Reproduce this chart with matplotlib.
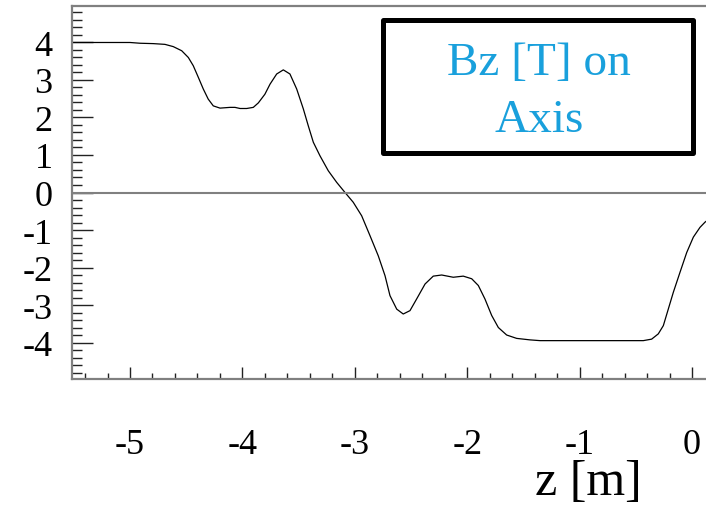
import numpy as np
import matplotlib.pyplot as plt
from matplotlib.patches import Rectangle
from matplotlib.ticker import MultipleLocator

plt.rcParams['font.family'] = ['Liberation Serif', 'DejaVu Serif']
plt.rcParams['axes.unicode_minus'] = False

# on-axis solenoid field, z in metres, Bz in tesla
z_m = [-5.70, -5.00, -4.911, -4.793, -4.689, -4.615, -4.540, -4.481, -4.437,
       -4.392, -4.348, -4.304, -4.259, -4.199, -4.110, -4.066, -4.021,
       -3.962, -3.903, -3.858, -3.800, -3.754, -3.695, -3.636, -3.577,
       -3.517, -3.458, -3.414, -3.369, -3.310, -3.236, -3.161, -3.087,
       -3.014, -2.939, -2.865, -2.791, -2.731, -2.687, -2.627, -2.569,
       -2.509, -2.450, -2.375, -2.302, -2.227, -2.124, -2.035, -1.960,
       -1.901, -1.842, -1.782, -1.723, -1.649, -1.560, -1.441, -1.352,
       -0.641, -0.433, -0.359, -0.300, -0.255, -0.211, -0.166, -0.107,
       -0.047, 0.012, 0.071, 0.116, 0.20]
bz_t = [4.00, 4.00, 3.98, 3.97, 3.95, 3.89, 3.78, 3.60, 3.38,
        3.07, 2.76, 2.49, 2.31, 2.25, 2.27, 2.27, 2.24,
        2.24, 2.27, 2.39, 2.62, 2.89, 3.16, 3.27, 3.16,
        2.76, 2.23, 1.78, 1.34, 0.98, 0.58, 0.27, 0.00,
        -0.26, -0.62, -1.15, -1.69, -2.22, -2.75, -3.11, -3.24,
        -3.15, -2.84, -2.44, -2.23, -2.20, -2.26, -2.23, -2.30,
        -2.48, -2.84, -3.28, -3.60, -3.80, -3.89, -3.93, -3.95,
        -3.95, -3.95, -3.91, -3.77, -3.55, -3.11, -2.66, -2.13,
        -1.60, -1.19, -0.93, -0.79, -0.60]

x_ticks = [-5, -4, -3, -2, -1, 0]
y_ticks = [-4, -3, -2, -1, 0, 1, 2, 3, 4]

W, H = 706, 506
fig = plt.figure(figsize=(W / 100, H / 100), dpi=100)

# frame runs past the right edge of the canvas
left_px, right_px, top_px, bottom_px = 72, 760, 7, 380
ax = fig.add_axes([left_px / W, 1 - bottom_px / H,
                   (right_px - left_px) / W, (bottom_px - top_px) / H])

ax.plot(z_m, bz_t, color='black', lw=0.9)
ax.axhline(0, color='#808080', lw=1.5)

ax.set_xlim(-5.516, 0.605)
ax.set_ylim(-4.973, 4.973)

for side in ['left', 'top', 'bottom']:
    ax.spines[side].set_color('#808080')
    ax.spines[side].set_linewidth(1.6)
ax.spines['right'].set_visible(False)

ax.set_xticks(x_ticks)
ax.set_yticks(y_ticks)
ax.xaxis.set_minor_locator(MultipleLocator(0.2))
ax.yaxis.set_minor_locator(MultipleLocator(0.2))
ax.set_xticklabels([str(v) for v in x_ticks])
ax.set_yticklabels([str(v) for v in y_ticks])

ax.tick_params(axis='x', which='major', direction='in', length=9, width=1,
               color='#222222', pad=35, labelsize=26)
ax.tick_params(axis='x', which='minor', direction='in', length=4.5, width=1,
               color='#222222')
ax.tick_params(axis='y', which='major', direction='in', length=15, width=1,
               color='#222222', pad=14, labelsize=26)
ax.tick_params(axis='y', which='minor', direction='in', length=7.5, width=1,
               color='#222222')
ax.tick_params(top=False, right=False, which='both')

# axis title, right aligned under the last ticks
fig.text(642 / W, 1 - 495 / H, 'z [m]', ha='right', va='baseline',
         fontsize=36, color='black')

# title box in the upper right
box = Rectangle((382.5 / W, 1 - 154.2 / H), 310 / W, 133.4 / H,
                transform=fig.transFigure, fill=True, facecolor='white',
                edgecolor='black', lw=3.6, joinstyle='round')
fig.patches.append(box)
fig.text(539 / W, 1 - 75 / H, 'Bz [T] on', ha='center', va='baseline',
         fontsize=34, color='#19a0dc')
fig.text(539 / W, 1 - 131.7 / H, 'Axis', ha='center', va='baseline',
         fontsize=34, color='#19a0dc')

fig.savefig('out.png', dpi=100)
